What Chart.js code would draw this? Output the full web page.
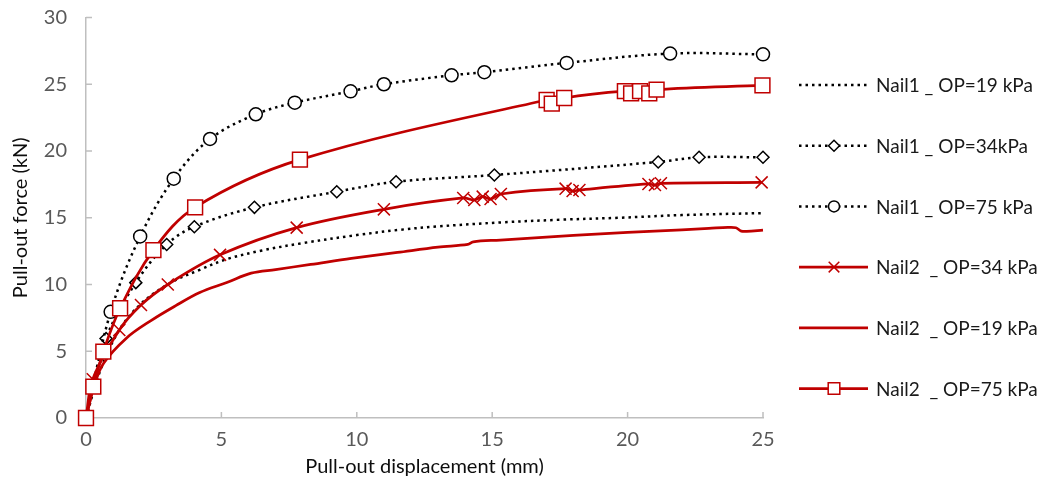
<!DOCTYPE html>
<html><head><meta charset="utf-8">
<script src="https://cdn.jsdelivr.net/npm/chart.js@4.4.1/dist/chart.umd.min.js"></script>
<style>html,body{margin:0;padding:0;background:#fff;}</style>
</head><body>
<canvas id="c" width="1040" height="479"></canvas>
<script>
// ---- data ----
const xTicks = [0, 5, 10, 15, 20, 25];
const yTicks = [0, 5, 10, 15, 20, 25, 30];
const seriesLabels = ["Nail1 _ OP=19 kPa", "Nail1 _ OP=34kPa", "Nail1 _ OP=75 kPa", "Nail2  _ OP=34 kPa", "Nail2  _ OP=19 kPa", "Nail2  _ OP=75 kPa"];

const n1_19_x = [0, 0.5, 1.2, 2.0, 3.1, 4.2, 5.2, 6.5, 8.0, 10.0, 11.6, 13.0, 15.3, 17.5, 19.7, 22.0, 25.0];
const n1_19_y = [0, 3.4, 6.5, 8.5, 10.1, 11.1, 11.9, 12.55, 13.1, 13.7, 14.1, 14.35, 14.65, 14.85, 15.0, 15.2, 15.35];

const n1_34_x = [0, 0.74, 1.84, 2.98, 4.0, 6.22, 9.26, 11.45, 15.08, 21.13, 22.64, 25.0];
const n1_34_y = [0, 5.95, 10.14, 13.0, 14.33, 15.78, 16.95, 17.7, 18.2, 19.18, 19.53, 19.53];

const n1_75_x = [0, 0.91, 2.0, 3.24, 4.58, 6.27, 7.71, 9.77, 11.0, 13.5, 14.71, 17.75, 21.57, 25.0];
const n1_75_y = [0, 7.95, 13.6, 17.93, 20.9, 22.75, 23.62, 24.47, 25.0, 25.67, 25.9, 26.6, 27.3, 27.24];

const n2_34_x = [0, 0.25, 1.23, 2.03, 3.02, 4.95, 7.78, 11.0, 13.93, 14.34, 14.65, 14.94, 15.32, 17.71, 17.97, 18.22, 20.77, 21.01, 21.23, 24.95];
const n2_34_y = [0, 2.9, 6.59, 8.46, 10.0, 12.22, 14.26, 15.63, 16.48, 16.33, 16.58, 16.4, 16.78, 17.18, 17.0, 17.08, 17.53, 17.45, 17.58, 17.65];

const n2_19_x = [0, 0.3, 0.65, 1.5, 2.4, 3.3, 4.2, 5.2, 6.1, 7.0, 8.3, 9.8, 11.5, 13.0, 14.1, 14.3, 15.3, 17.0, 19.0, 21.0, 23.0, 23.7, 24.0, 24.2, 24.4, 25.0];
const n2_19_y = [0, 2.4, 4.1, 6.0, 7.3, 8.4, 9.4, 10.15, 10.85, 11.12, 11.5, 11.95, 12.4, 12.8, 13.0, 13.2, 13.33, 13.55, 13.8, 14.0, 14.2, 14.28, 14.25, 14.0, 13.98, 14.08];

const n2_75_x = [0, 0.27, 0.64, 1.26, 2.49, 4.03, 7.9, 17.01, 17.2, 17.66, 19.9, 20.13, 20.46, 20.8, 21.07, 24.98];
const n2_75_y = [0, 2.35, 4.97, 8.22, 12.58, 15.78, 19.35, 23.82, 23.55, 23.97, 24.49, 24.32, 24.49, 24.32, 24.6, 24.92];

// ---- styling ----
const FONT = 'Lato, "Liberation Sans", sans-serif';
const RED = '#c00000';
const pts = (xs, ys) => xs.map((x, i) => ({x: x, y: ys[i]}));

const styles = [
  {xs: n1_19_x, ys: n1_19_y, color: '#000', dash: [2.5, 4], width: 2.5, marker: false, radius: 0, legR: 0},
  {xs: n1_34_x, ys: n1_34_y, color: '#000', dash: [2.5, 4], width: 2.5, marker: 'rectRot', radius: 6, legR: 5.5, mw: 1.5, mc: '#000'},
  {xs: n1_75_x, ys: n1_75_y, color: '#000', dash: [2.5, 4], width: 2.5, marker: 'circle', radius: 6.5, legR: 5.5, mw: 1.5, mc: '#000'},
  {xs: n2_34_x, ys: n2_34_y, color: RED, dash: [], width: 2.75, marker: 'crossRot', radius: 8.5, legR: 7.5, mw: 1.5, mc: RED},
  {xs: n2_19_x, ys: n2_19_y, color: RED, dash: [], width: 2.75, marker: false, radius: 0, legR: 0},
  {xs: n2_75_x, ys: n2_75_y, color: RED, dash: [], width: 2.75, marker: 'rect', radius: 10.5, legR: 8.2, mw: 1.5, mc: RED}
];

const datasets = styles.map((s, i) => ({
  label: seriesLabels[i],
  data: pts(s.xs, s.ys),
  borderColor: s.color,
  borderWidth: s.width,
  borderDash: s.dash,
  borderCapStyle: 'butt',
  tension: 0.35,
  pointRadius: s.radius,
  pointStyle: s.marker || 'circle',
  pointBackgroundColor: '#fff',
  pointBorderColor: s.mc || s.color,
  pointBorderWidth: s.mw || 0,
  legR: s.legR,
  clip: false,
  order: styles.length - i
}));

const innerTicks = {
  id: 'innerTicks',
  beforeDatasetsDraw(chart) {
    const ctx = chart.ctx, xs = chart.scales.x, ys = chart.scales.y;
    ctx.save();
    ctx.strokeStyle = '#bfbfbf';
    ctx.lineWidth = 1.5;
    ctx.beginPath();
    xs.ticks.forEach((t, i) => { const p = xs.getPixelForTick(i); ctx.moveTo(p, xs.top); ctx.lineTo(p, xs.top - 6); });
    ys.ticks.forEach((t, i) => { const p = ys.getPixelForTick(i); ctx.moveTo(ys.right, p); ctx.lineTo(ys.right + 6, p); });
    ctx.stroke();
    ctx.restore();
  }
};

const sideLegend = {
  id: 'sideLegend',
  afterDraw(chart) {
    const ctx = chart.ctx;
    const y0 = 85, dy = 60.7, x0 = 799, x1 = 868, xm = 834, xt = 876;
    chart.data.datasets.forEach((ds, i) => {
      const y = y0 + i * dy;
      ctx.save();
      ctx.strokeStyle = ds.borderColor;
      ctx.lineWidth = ds.borderWidth;
      ctx.setLineDash(ds.borderDash);
      ctx.beginPath(); ctx.moveTo(x0, y); ctx.lineTo(x1, y); ctx.stroke();
      ctx.setLineDash([]);
      if (ds.pointRadius > 0) {
        ctx.fillStyle = '#fff';
        ctx.strokeStyle = ds.pointBorderColor;
        ctx.lineWidth = ds.pointBorderWidth;
        Chart.helpers.drawPoint(ctx, {pointStyle: ds.pointStyle, radius: ds.legR, rotation: 0, borderWidth: ds.pointBorderWidth}, xm, y);
      }
      ctx.fillStyle = '#1a1a1a';
      ctx.font = '19px ' + FONT;
      ctx.textBaseline = 'middle';
      ctx.textAlign = 'left';
      ctx.fillText(ds.label, xt, y + 1);
      ctx.restore();
    });
  }
};

new Chart(document.getElementById('c'), {
  type: 'line',
  data: {datasets},
  options: {
    responsive: false,
    animation: false,
    devicePixelRatio: 1,
    layout: {padding: {left: 0, top: 17.5, right: 277, bottom: 0}},
    plugins: {legend: {display: false}, tooltip: {enabled: false}},
    scales: {
      x: {
        type: 'linear', min: 0, max: 25,
        afterBuildTicks(s) { s.ticks = xTicks.map(v => ({value: v})); },
        ticks: {color: '#595959', font: {family: FONT, size: 20}, padding: 10},
        grid: {drawOnChartArea: false, drawTicks: false},
        border: {color: '#bfbfbf', width: 1.5},
        title: {display: true, text: 'Pull-out displacement (mm)', color: '#0d0d0d', font: {family: FONT, size: 20}, padding: {top: 0, bottom: 0}},
        afterFit(s) { s.height = 61; s.paddingLeft = 0; s.paddingRight = 0; }
      },
      y: {
        type: 'linear', min: 0, max: 30,
        afterBuildTicks(s) { s.ticks = yTicks.map(v => ({value: v})); },
        ticks: {color: '#595959', font: {family: FONT, size: 20}, padding: 19},
        grid: {drawOnChartArea: false, drawTicks: false},
        border: {color: '#bfbfbf', width: 1.5},
        title: {display: true, text: 'Pull-out force (kN)', color: '#0d0d0d', font: {family: FONT, size: 20}, padding: {top: 9, bottom: 0}},
        afterFit(s) { s.width = 86; s.paddingTop = 0; s.paddingBottom = 0; }
      }
    }
  },
  plugins: [innerTicks, sideLegend]
});
</script>
</body></html>
